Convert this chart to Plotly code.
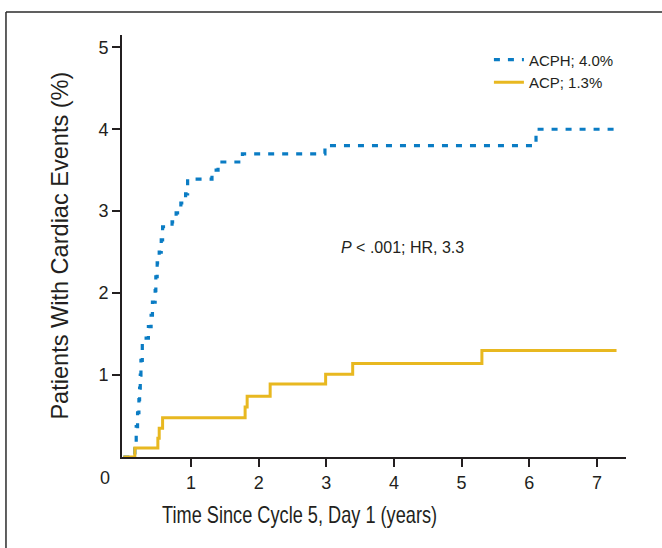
import plotly.graph_objects as go

# ACPH (blue, dotted) cumulative incidence, step function
acph_time = [0, 0.17, 0.19, 0.21, 0.23, 0.24, 0.25, 0.26, 0.28, 0.37, 0.41, 0.43, 0.47, 0.48,
             0.50, 0.53, 0.56, 0.58, 0.72, 0.78, 0.85, 0.92, 0.95, 1.31, 1.40, 1.76, 2.98, 6.10, 7.29]
acph_pct = [0, 0.10, 0.37, 0.54, 0.70, 0.84, 1.00, 1.18, 1.45, 1.59, 1.73, 1.89, 2.03, 2.20,
            2.37, 2.50, 2.65, 2.81, 2.87, 2.98, 3.10, 3.21, 3.39, 3.50, 3.60, 3.70, 3.80, 4.00, 4.00]

# ACP (yellow, solid)
acp_time = [0, 0.17, 0.51, 0.53, 0.58, 1.80, 1.83, 2.17, 2.99, 3.39, 5.30, 7.29]
acp_pct = [0, 0.11, 0.23, 0.35, 0.48, 0.61, 0.74, 0.89, 1.01, 1.14, 1.30, 1.30]

series_names = ["ACPH; 4.0%", "ACP; 1.3%"]
x_ticks = [1, 2, 3, 4, 5, 6, 7]
y_ticks = [1, 2, 3, 4, 5]
x_title = "Time Since Cycle 5, Day 1 (years)"
y_title = "Patients With Cardiac Events (%)"

BLUE = "#0a7cc4"
YELLOW = "#e8b820"
AXIS = "#231f20"
SANS = "Arial, 'Liberation Sans', Helvetica, sans-serif"

fig = go.Figure()
fig.add_trace(go.Scatter(x=acph_time, y=acph_pct, mode="lines", line_shape="hv",
                         name=series_names[0],
                         line=dict(color=BLUE, width=3.2, dash="6px,8px")))
fig.add_trace(go.Scatter(x=acp_time, y=acp_pct, mode="lines", line_shape="hv",
                         name=series_names[1],
                         line=dict(color=YELLOW, width=3)))

axis_common = dict(showgrid=False, zeroline=False, showline=True, linecolor=AXIS, linewidth=2,
                   ticks="outside", ticklen=8, tickwidth=1.5, tickcolor=AXIS,
                   tickfont=dict(family=SANS, size=18, color=AXIS), automargin=False)

fig.update_layout(
    width=662, height=548,
    margin=dict(l=122, r=36, t=35, b=91),
    paper_bgcolor="white", plot_bgcolor="white",
    showlegend=True,
    legend=dict(x=0.728, y=0.98, xanchor="left", yanchor="top",
                font=dict(family=SANS, size=15, color=AXIS),
                bgcolor="rgba(0,0,0,0)", tracegroupgap=0),
    xaxis=dict(range=[-0.02, 7.43], tickvals=x_ticks, ticktext=[str(v) for v in x_ticks],
               **axis_common),
    yaxis=dict(range=[0, 5.15], tickvals=y_ticks, ticktext=[str(v) for v in y_ticks],
               **axis_common),
)

# axis titles (condensed look obtained via textLength in the page script)
fig.add_annotation(x=0.352, y=-0.137, xref="paper", yref="paper", text=x_title,
                   showarrow=False, xanchor="center", yanchor="middle",
                   font=dict(family=SANS, size=24, color=AXIS))
fig.add_annotation(x=-0.125, y=0.5, xref="paper", yref="paper", text=y_title,
                   showarrow=False, textangle=-90, xanchor="center", yanchor="middle",
                   font=dict(family=SANS, size=24, color=AXIS))

fig.add_annotation(x=-0.0476, y=0, xref="paper", yref="paper", text="0", showarrow=False,
                   yanchor="middle", yshift=-21, font=dict(family=SANS, size=18, color=AXIS))
fig.add_annotation(x=4.12, y=2.56, xref="x", yref="y",
                   text="<i>P</i> &lt; .001; HR, 3.3", showarrow=False,
                   font=dict(family=SANS, size=16, color=AXIS))

# outer frame (left and top edges visible)
fig.add_shape(type="line", xref="paper", yref="paper", x0=-0.2302, x1=1.2, y0=1.0545, y1=1.0545,
              line=dict(color="#2b2b2b", width=1.5))
fig.add_shape(type="line", xref="paper", yref="paper", x0=-0.2302, x1=-0.2302, y0=1.0545, y1=-0.3,
              line=dict(color="#2b2b2b", width=1.5))

post_script = """
document.body.style.margin = '0';
document.body.style.overflow = 'hidden';
var gd = document.getElementById('{plot_id}');
function fitTitles(){
  var txts = gd.querySelectorAll('text');
  txts.forEach(function(t){
    var s = t.textContent;
    if (s === %s) { t.setAttribute('textLength','275'); t.setAttribute('lengthAdjust','spacingAndGlyphs'); }
    if (s === %s) { t.setAttribute('textLength','348'); t.setAttribute('lengthAdjust','spacingAndGlyphs'); }
  });
}
fitTitles();
gd.on('plotly_afterplot', fitTitles);
""" % (repr(x_title), repr(y_title))

fig.write_html("out.html", post_script=post_script, config={"displayModeBar": False})
